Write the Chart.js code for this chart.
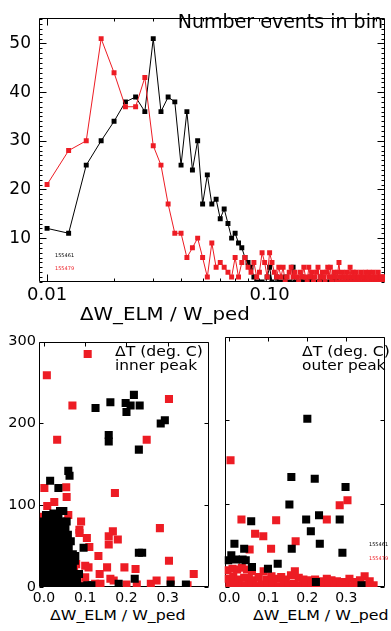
<!DOCTYPE html>
<html>
<head>
<meta charset="utf-8">
<script src="https://cdn.jsdelivr.net/npm/chart.js@4.4.1/dist/chart.umd.min.js"></script>
<style>
  html, body { margin: 0; padding: 0; background: #fff; }
  #page { position: relative; width: 391px; height: 631px; overflow: hidden; }
  #page canvas { position: absolute; }
  .txt { position: absolute; white-space: nowrap; line-height: 1; font-family: 'DejaVu Sans', sans-serif; color: #000; transform-origin: left top; }
  .red { color: #ed1c24; }
</style>
</head>
<body>
<div id="page">
  <canvas id="histChart" width="391" height="310" style="left:0;top:0;"></canvas>
  <canvas id="innerChart" width="215" height="275" style="left:0;top:330px;"></canvas>
  <canvas id="outerChart" width="176" height="275" style="left:215px;top:330px;"></canvas>

  <div class="txt" style="right:8px;top:12px;font-size:19px;">Number events in bin</div>
  <div class="txt" style="left:80px;top:305px;font-size:18px;transform:scaleX(1.1);">ΔW_ELM / W_ped</div>
  <div class="txt" style="left:55px;top:253px;font-size:5px;">155461</div>
  <div class="txt red" style="left:55px;top:266px;font-size:5px;">155479</div>

  <div class="txt" style="left:115px;top:345px;font-size:13.5px;transform:scaleX(1.16);">ΔT (deg. C)</div>
  <div class="txt" style="left:115px;top:358.5px;font-size:13.5px;transform:scaleX(1.14);">inner peak</div>
  <div class="txt" style="left:50px;top:607.5px;font-size:14.5px;transform:scaleX(1.09);">ΔW_ELM / W_ped</div>

  <div class="txt" style="left:302px;top:345px;font-size:13.5px;transform:scaleX(1.16);">ΔT (deg. C)</div>
  <div class="txt" style="left:302px;top:358.5px;font-size:13.5px;transform:scaleX(1.14);">outer peak</div>
  <div class="txt" style="left:253px;top:607.5px;font-size:14.5px;transform:scaleX(1.09);">ΔW_ELM / W_ped</div>
  <div class="txt" style="left:369px;top:542px;font-size:5px;">155461</div>
  <div class="txt red" style="left:369px;top:556px;font-size:5px;">155479</div>
</div>

<script>
// ---- top panel: histogram of dW_ELM / W_ped (bins 0.0025 wide) ----
const binCenters = [
  0.0100, 0.0125, 0.0150, 0.0175, 0.0200, 0.0225, 0.0250, 0.0275, 0.0300, 0.0325,
  0.0350, 0.0375, 0.0400, 0.0425, 0.0450, 0.0475, 0.0500, 0.0525, 0.0550, 0.0575,
  0.0600, 0.0625, 0.0650, 0.0675, 0.0700, 0.0725, 0.0750, 0.0775, 0.0800, 0.0825,
  0.0850, 0.0875, 0.0900, 0.0925, 0.0950, 0.0975, 0.1000, 0.1025, 0.1050, 0.1075,
  0.1100, 0.1125, 0.1150, 0.1175, 0.1200, 0.1225, 0.1250, 0.1275, 0.1300, 0.1325,
  0.1350, 0.1375, 0.1400, 0.1425, 0.1450, 0.1475, 0.1500, 0.1525, 0.1550, 0.1575,
  0.1600, 0.1625, 0.1650, 0.1675, 0.1700, 0.1725, 0.1750, 0.1775, 0.1800, 0.1825,
  0.1850, 0.1875, 0.1900, 0.1925, 0.1950, 0.1975, 0.2000, 0.2025, 0.2050, 0.2075,
  0.2100, 0.2125, 0.2150, 0.2175, 0.2200, 0.2225, 0.2250, 0.2275, 0.2300, 0.2325,
  0.2350, 0.2375, 0.2400, 0.2425, 0.2450, 0.2475, 0.2500, 0.2525, 0.2550, 0.2575,
  0.2600, 0.2625, 0.2650, 0.2675, 0.2700, 0.2725, 0.2750, 0.2775, 0.2800, 0.2825,
  0.2850, 0.2875, 0.2900, 0.2925, 0.2950, 0.2975, 0.3000, 0.3025, 0.3050, 0.3075,
  0.3100, 0.3125, 0.3150, 0.3175, 0.3200, 0.3225, 0.3250, 0.3275, 0.3300
];
const counts155461 = [
  12, 11, 25, 30, 34, 38, 39, 36, 51, 36,
  39, 38, 25, 36, 24, 30, 17, 23, 17, 18,
  14, 16, 13, 10, 11, 9, 8, 6, 5, 4,
  2, 1, 0, 1, 0, 2, 4, 1, 0, 2,
  1, 0, 1, 2, 0, 1, 0, 4, 1, 0,
  1, 0, 2, 1, 0, 1, 0, 2, 1, 0,
  0, 1, 0, 1, 2, 0, 1, 0, 1, 0,
  0, 1, 0, 1, 2, 0, 1, 0, 1, 0,
  0, 1, 0, 0, 1, 0, 1, 0, 0, 1,
  0, 0, 1, 0, 0, 0, 1, 0, 0, 1,
  0, 0, 0, 1, 0, 0, 0, 1, 0, 0,
  0, 0, 1, 0, 0, 0, 0, 0, 1, 0,
  0, 0, 0, 0, 0, 0, 0, 0, 0
];
const counts155479 = [
  21, 28, 30, 51, 44, 37, 37, 43, 29, 25,
  17, 11, 11, 6, 8, 10, 6, 2, 9, 4,
  5, 4, 3, 2, 6, 2, 5, 6, 4, 3,
  5, 2, 3, 7, 5, 2, 7, 5, 3, 2,
  4, 2, 4, 1, 2, 3, 4, 2, 3, 2,
  1, 3, 2, 4, 2, 1, 4, 2, 3, 1,
  2, 3, 4, 1, 2, 3, 2, 1, 3, 4,
  2, 4, 1, 2, 3, 2, 1, 3, 5, 2,
  1, 3, 2, 1, 2, 3, 1, 2, 4, 1,
  2, 3, 2, 1, 3, 1, 2, 2, 1, 3,
  2, 1, 2, 1, 3, 2, 1, 2, 3, 1,
  2, 1, 2, 3, 1, 2, 1, 2, 1, 3,
  1, 2, 1, 2, 1, 2, 1, 2, 1
];
const histXTicks = [0.01, 0.1];
const histXLabels = ['0.01', '0.10'];
const histYTicks = [10, 20, 30, 40, 50];
const histYLabels = ['10', '20', '30', '40', '50'];

// ---- bottom panels: dT vs dW_ELM / W_ped, [x, y] ----
const inner155461 = [
  [0.125, 219], [0.161, 226], [0.198, 225], [0.21, 222], [0.2, 214], [0.218, 235], [0.232, 222],
  [0.157, 186], [0.157, 178], [0.23, 168], [0.283, 200], [0.293, 204], [0.059, 142], [0.062, 136],
  [0.015, 130], [0.035, 121], [0.039, 93], [0.047, 93], [0.023, 90], [0.096, 48], [0.076, 38],
  [0.23, 42], [0.238, 42], [0.22, 10], [0.181, 4], [0.307, 3], [0.344, 3],
  [0.005, 88], [0.02, 88], [0.035, 88],
  [0.0, 80], [0.012, 80], [0.028, 80], [0.042, 80], [0.055, 80],
  [-0.005, 72], [0.01, 72], [0.025, 72], [0.04, 72], [0.052, 72],
  [0.0, 64], [0.015, 64], [0.03, 64], [0.045, 64], [0.058, 64],
  [-0.005, 56], [0.01, 56], [0.025, 56], [0.04, 56], [0.055, 56], [0.065, 56],
  [0.0, 48], [0.015, 48], [0.03, 48], [0.045, 48], [0.06, 48],
  [-0.005, 40], [0.01, 40], [0.025, 40], [0.04, 40], [0.055, 40], [0.07, 40],
  [0.0, 32], [0.015, 32], [0.03, 32], [0.045, 32], [0.06, 32], [0.075, 32],
  [-0.005, 24], [0.01, 24], [0.025, 24], [0.04, 24], [0.055, 24], [0.07, 24],
  [0.0, 16], [0.015, 16], [0.03, 16], [0.045, 16], [0.06, 16], [0.075, 16], [0.085, 16],
  [-0.005, 8], [0.01, 8], [0.025, 8], [0.04, 8], [0.055, 8], [0.07, 8], [0.08, 8],
  [0.0, 1], [0.015, 1], [0.03, 1], [0.045, 1], [0.06, 1], [0.075, 1], [0.09, 1], [0.105, 2], [0.115, 2]
];
const inner155479 = [
  [0.106, 285], [0.007, 259], [0.069, 222], [0.303, 230], [0.032, 180], [0.249, 180],
  [0.001, 121], [0.054, 122], [0.055, 110], [0.025, 104], [0.008, 99], [0.172, 115],
  [0.0, 86], [0.059, 88], [0.09, 80], [0.086, 70], [0.086, 66], [0.104, 60], [0.167, 68],
  [0.157, 62], [0.179, 58], [0.157, 52], [0.11, 49], [0.132, 38], [0.281, 72], [0.303, 32],
  [0.1, 26], [0.108, 24], [0.153, 24], [0.195, 24], [0.222, 22], [0.078, 28], [0.1, 12],
  [0.135, 16], [0.124, 4], [0.137, 4], [0.161, 10], [0.169, 8], [0.259, 4], [0.273, 8],
  [0.225, 3], [0.2, 3], [0.363, 16], [0.307, 8], [0.348, 2], [0.095, 2], [0.073, 20]
];
const outer155461 = [
  [0.2, 202], [0.159, 132], [0.219, 130], [0.298, 120], [0.154, 99], [0.23, 86], [0.056, 79],
  [0.197, 81], [0.283, 81], [0.209, 67], [0.232, 52], [0.16, 46], [0.013, 52], [0.038, 46],
  [0.29, 41], [0.124, 28], [0.005, 38], [0.017, 33], [0.034, 33], [0.042, 32], [-0.003, 32],
  [0.058, 24], [0.099, 22], [0.222, 6], [0.339, 2]
];
const outer155479 = [
  [0.003, 152], [0.283, 98], [0.303, 104], [0.031, 81], [0.12, 80], [0.25, 81], [0.066, 64],
  [0.087, 61], [0.17, 55], [0.052, 45], [0.107, 46],
  [-0.005, 20], [0.008, 22], [0.02, 21], [0.032, 23], [0.045, 21], [0.058, 19],
  [-0.004, 10], [0.01, 12], [0.024, 9], [0.038, 11], [0.05, 10], [0.062, 8],
  [0.0, 2], [0.014, 3], [0.028, 1], [0.042, 2], [0.056, 3], [0.07, 1],
  [0.075, 12], [0.088, 19], [0.095, 9], [0.108, 13], [0.12, 10], [0.133, 12], [0.145, 9],
  [0.158, 14], [0.168, 19], [0.178, 11],
  [0.082, 3], [0.098, 2], [0.112, 4], [0.126, 1], [0.14, 3], [0.152, 2], [0.165, 4], [0.18, 2],
  [0.19, 9], [0.205, 8], [0.22, 9], [0.235, 7], [0.25, 10], [0.262, 8], [0.276, 7], [0.29, 6],
  [0.308, 10], [0.322, 6], [0.335, 8], [0.347, 13], [0.36, 7],
  [0.195, 2], [0.21, 3], [0.225, 1], [0.24, 2], [0.255, 3], [0.27, 1], [0.285, 2], [0.3, 3],
  [0.315, 1], [0.33, 2], [0.345, 3], [0.36, 1], [0.37, 2]
];
const scatXTicks = [0.0, 0.1, 0.2, 0.3];
const scatXLabels = ['0.0', '0.1', '0.2', '0.3'];
const scatYTicks = [0, 100, 200, 300];
const scatYLabels = ['0', '100', '200', '300'];

const RED = '#ed1c24';
const BLACK = '#000000';

Chart.defaults.font.family = "'DejaVu Sans', sans-serif";
Chart.defaults.color = '#000';
Chart.defaults.animation = false;

// box frame with inward ticks on all four sides (IDL style)
const frameTicks = {
  id: 'frameTicks',
  beforeDatasetsDraw(chart, args, o) {
    const { ctx, chartArea: a } = chart;
    const xs = chart.scales.x, ys = chart.scales.y;
    const L = Math.round(a.left) + 0.5, R = Math.round(a.right) - 0.5;
    const T = Math.round(a.top) + 0.5, B = Math.round(a.bottom) - 0.5;
    const inX = v => v >= xs.min && v <= xs.max;
    const inY = v => v >= ys.min && v <= ys.max;
    ctx.save();
    ctx.strokeStyle = '#000';
    ctx.lineWidth = 1;
    ctx.beginPath();
    ctx.rect(L, T, R - L, B - T);
    const xTick = (v, len) => {
      if (!inX(v)) return;
      const p = Math.round(xs.getPixelForValue(v)) + 0.5;
      ctx.moveTo(p, B); ctx.lineTo(p, B - len);
      ctx.moveTo(p, T); ctx.lineTo(p, T + len);
    };
    const yTick = (v, len) => {
      if (!inY(v)) return;
      const p = Math.round(ys.getPixelForValue(v)) + 0.5;
      ctx.moveTo(L, p); ctx.lineTo(L + len, p);
      ctx.moveTo(R, p); ctx.lineTo(R - len, p);
    };
    o.xMajor.forEach(v => xTick(v, o.majorLen));
    (o.xMinor || []).forEach(v => xTick(v, o.minorLen));
    o.yMajor.forEach(v => yTick(v, o.majorLen));
    (o.yMinor || []).forEach(v => yTick(v, o.minorLen));
    ctx.stroke();
    ctx.restore();
  }
};

function fixedTicks(values) {
  return scale => { scale.ticks = values.map(v => ({ value: v })); };
}

// minor tick positions (decoration only)
const histXMinor = [0.02, 0.03, 0.04, 0.05, 0.06, 0.07, 0.08, 0.09, 0.2, 0.3];
const histYMinor = [];
for (let v = 1; v <= 55; v++) if (v % 10 !== 0) histYMinor.push(v);

function lineSet(label, counts, color) {
  return {
    label,
    data: binCenters.map((x, i) => ({ x, y: counts[i] })),
    borderColor: color,
    backgroundColor: color,
    borderWidth: 1,
    pointStyle: 'rect',
    pointRadius: 3.5,
    pointHoverRadius: 3.5,
    pointBorderWidth: 0,
    pointBackgroundColor: color,
    tension: 0,
    clip: 0
  };
}

new Chart(document.getElementById('histChart'), {
  type: 'line',
  data: {
    datasets: [
      lineSet('155479', counts155479, RED),
      lineSet('155461', counts155461, BLACK)
    ]
  },
  options: {
    responsive: false,
    devicePixelRatio: 1,
    events: [],
    layout: { padding: { top: 6, right: 6, bottom: 4, left: 0 } },
    plugins: {
      legend: { display: false },
      tooltip: { enabled: false },
      frameTicks: { xMajor: histXTicks, xMinor: histXMinor, yMajor: histYTicks, yMinor: histYMinor, majorLen: 7, minorLen: 3 }
    },
    scales: {
      x: {
        type: 'logarithmic',
        min: 0.0092,
        max: 0.33,
        grid: { display: false, drawTicks: false },
        border: { display: false },
        afterBuildTicks: fixedTicks(histXTicks),
        afterFit: s => { s.height = 24; },
        ticks: { font: { size: 18 }, padding: 3, maxRotation: 0, autoSkip: false,
                 callback: (v, i) => histXLabels[i] }
      },
      y: {
        min: 0.98,
        max: 55.2,
        grid: { display: false, drawTicks: false },
        border: { display: false },
        afterBuildTicks: fixedTicks(histYTicks),
        afterFit: s => { s.width = 39; },
        ticks: { font: { size: 17 }, padding: 8, autoSkip: false,
                 callback: (v, i) => histYLabels[i] }
      }
    }
  },
  plugins: [frameTicks]
});

function scatSet(label, pts, color) {
  return {
    label,
    data: pts.map(p => ({ x: p[0], y: p[1] })),
    backgroundColor: color,
    borderColor: color,
    pointStyle: 'rect',
    pointRadius: 5.7,
    pointHoverRadius: 5.7,
    pointBorderWidth: 0,
    showLine: false,
    clip: 0
  };
}

function scatterChart(id, blackPts, redPts, showY, padLeft, padRight) {
  return new Chart(document.getElementById(id), {
    type: 'scatter',
    data: { datasets: [scatSet('155461', blackPts, BLACK), scatSet('155479', redPts, RED)] },
    options: {
      responsive: false,
      devicePixelRatio: 1,
      events: [],
      layout: { padding: { top: 7, right: padRight, bottom: 0, left: padLeft } },
      plugins: {
        legend: { display: false },
        tooltip: { enabled: false },
        frameTicks: { xMajor: scatXTicks, yMajor: scatYTicks, majorLen: 4, minorLen: 2 }
      },
      scales: {
        x: {
          type: 'linear',
          min: -0.012,
          max: 0.4,
          grid: { display: false, drawTicks: false },
          border: { display: false },
          afterBuildTicks: fixedTicks(scatXTicks),
          afterFit: s => { s.height = 18; },
          ticks: { font: { size: 14 }, padding: 3, maxRotation: 0, autoSkip: false,
                   callback: (v, i) => scatXLabels[i] }
        },
        y: {
          min: 0,
          max: 300,
          display: showY,
          grid: { display: false, drawTicks: false },
          border: { display: false },
          afterBuildTicks: fixedTicks(scatYTicks),
          afterFit: s => { s.width = showY ? 39 : 0; },
          ticks: { font: { size: 14.5 }, padding: 3, autoSkip: false,
                   callback: (v, i) => scatYLabels[i] }
        }
      }
    },
    plugins: [frameTicks]
  });
}

scatterChart('innerChart', inner155461, inner155479, true, 0, 6);
scatterChart('outerChart', outer155461, outer155479, false, 8, 1);
</script>
</body>
</html>
